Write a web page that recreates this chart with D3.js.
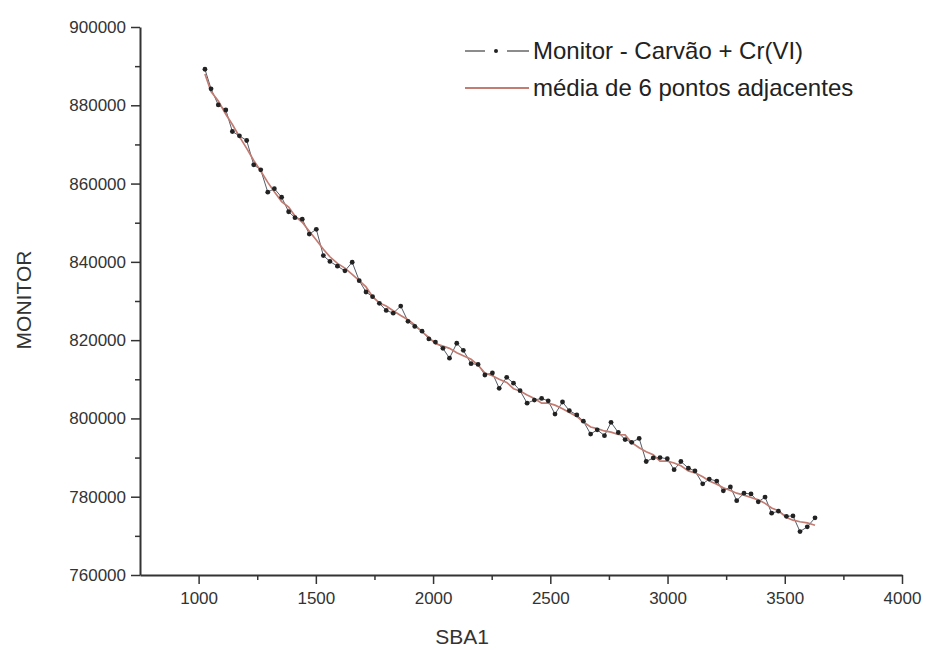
<!DOCTYPE html>
<html lang="pt">
<head>
<meta charset="utf-8">
<title>MONITOR vs SBA1</title>
<script src="https://d3js.org/d3.v7.min.js"></script>
<style>
  body { margin: 0; background: #fff; }
  svg { font-family: "Liberation Sans", Arial, sans-serif; }
</style>
</head>
<body>
<script>
var sba1 = [1027, 1053, 1084, 1116, 1144, 1174, 1205, 1235, 1265, 1295,
  1323, 1354, 1384, 1411, 1442, 1472, 1502, 1532, 1560, 1592,
  1624, 1655, 1685, 1714, 1742, 1771, 1800, 1830, 1862, 1893,
  1922, 1953, 1982, 2010, 2042, 2070, 2101, 2129, 2162, 2192,
  2221, 2253, 2282, 2314, 2343, 2371, 2401, 2432, 2463, 2491,
  2520, 2552, 2581, 2613, 2641, 2672, 2700, 2731, 2759, 2790,
  2819, 2847, 2879, 2909, 2939, 2968, 2999, 3028, 3057, 3089,
  3117, 3150, 3178, 3210, 3238, 3268, 3295, 3326, 3356, 3387,
  3416, 3444, 3473, 3507, 3535, 3565, 3596, 3629];

var monitor = [889200, 884200, 880100, 878800, 873300, 872200, 871000, 864800, 863500, 857800,
  858700, 856500, 852800, 851300, 850900, 847100, 848300, 841600, 840100, 838900,
  837700, 839900, 835200, 832300, 831100, 829400, 827600, 826900, 828700, 824800,
  823500, 822300, 820300, 819500, 817900, 815400, 819200, 817400, 814000, 813800,
  811100, 811600, 807700, 810500, 809000, 807100, 803900, 804700, 805100, 804500,
  801100, 804200, 802000, 800900, 799300, 796000, 797100, 795600, 799000, 796400,
  794600, 793900, 794900, 789000, 789900, 790000, 789700, 786900, 789000, 787300,
  786600, 783300, 784500, 784000, 781500, 782500, 779000, 780900, 780700, 778700,
  779900, 775800, 776300, 775000, 775100, 771100, 772300, 774600];

// the red smoothed line, read at the same x positions
var media = [888000, 883500, 881100, 877700, 875100, 872000, 869000, 865900, 863200, 860300,
  857900, 855400, 854000, 851700, 850100, 847800, 845600, 843200, 841300, 839600,
  838400, 836800, 835200, 833600, 831100, 829500, 828700, 827500, 826300, 825200,
  823900, 822100, 820700, 819100, 818500, 817900, 816800, 816000, 815100, 813600,
  811600, 810900, 810000, 809200, 807600, 807000, 806000, 805100, 803900, 803900,
  803400, 802500, 801500, 800500, 799100, 797800, 797400, 796800, 796500, 795900,
  795800, 793800, 792500, 791500, 790700, 789100, 789100, 788600, 787900, 786600,
  786100, 785100, 784000, 783200, 782300, 781600, 780900, 780400, 779800, 779200,
  778300, 777100, 776400, 774700, 774000, 773600, 773300, 772700];

var xTicks = [1000, 1500, 2000, 2500, 3000, 3500, 4000];
var yTicks = [760000, 780000, 800000, 820000, 840000, 860000, 880000, 900000];
var legendNames = ["Monitor - Carvão + Cr(VI)", "média de 6 pontos adjacentes"];

var width = 926, height = 650;
var axisColor = "#333";

var svg = d3.select("body").append("svg")
    .attr("width", width)
    .attr("height", height);

var x = d3.scaleLinear().domain([750, 4000]).range([140, 902]);
var y = d3.scaleLinear().domain([760000, 900000]).range([575, 27]);

// minor ticks first, then major ones
var xMinor = d3.range(1250, 4000, 500);
var yMinor = d3.range(770000, 900000, 20000);

svg.append("g")
    .attr("transform", "translate(0," + y(760000) + ")")
    .call(d3.axisBottom(x).tickValues(xMinor).tickSize(5).tickFormat(""))
    .call(function(g) { g.select(".domain").remove(); });

svg.append("g")
    .attr("transform", "translate(" + x(750) + ",0)")
    .call(d3.axisLeft(y).tickValues(yMinor).tickSize(5).tickFormat(""))
    .call(function(g) { g.select(".domain").remove(); });

svg.append("g")
    .attr("transform", "translate(0," + y(760000) + ")")
    .call(d3.axisBottom(x).tickValues(xTicks).tickSize(9).tickSizeOuter(0).tickPadding(8).tickFormat(d3.format("d")));

svg.append("g")
    .attr("transform", "translate(" + x(750) + ",0)")
    .call(d3.axisLeft(y).tickValues(yTicks).tickSize(9).tickSizeOuter(0).tickPadding(5).tickFormat(d3.format("d")));

svg.selectAll(".tick line").attr("stroke", axisColor).attr("stroke-width", 1.5);
svg.selectAll(".domain").attr("stroke", axisColor).attr("stroke-width", 2);
svg.selectAll(".tick text")
    .attr("fill", axisColor)
    .style("font-size", "17px")
    .style("font-family", "'Liberation Sans', Arial, sans-serif");

// axis titles
svg.append("text")
    .attr("x", 462).attr("y", 644)
    .attr("text-anchor", "middle")
    .attr("fill", axisColor)
    .style("font-size", "21px")
    .text("SBA1");

svg.append("text")
    .attr("transform", "translate(31,300) rotate(-90)")
    .attr("text-anchor", "middle")
    .attr("fill", axisColor)
    .style("font-size", "21px")
    .text("MONITOR");

// data line + dots
var pts = sba1.map(function(d, i) { return [d, monitor[i]]; });
var avg = sba1.map(function(d, i) { return [d, media[i]]; });

var line = d3.line()
    .x(function(d) { return x(d[0]); })
    .y(function(d) { return y(d[1]); });

svg.append("path")
    .datum(pts)
    .attr("d", line)
    .attr("fill", "none")
    .attr("stroke", "#555c66")
    .attr("stroke-width", 1);

svg.append("path")
    .datum(avg)
    .attr("d", line)
    .attr("fill", "none")
    .attr("stroke", "#c27c72")
    .attr("stroke-width", 1.7);

svg.selectAll("circle.pt")
    .data(pts)
    .enter().append("circle")
    .attr("class", "pt")
    .attr("cx", function(d) { return x(d[0]); })
    .attr("cy", function(d) { return y(d[1]); })
    .attr("r", 2.4)
    .attr("fill", "#222");

// legend
var lg = svg.append("g").attr("transform", "translate(465,0)");
lg.append("line").attr("x1", 0).attr("x2", 20).attr("y1", 51).attr("y2", 51)
    .attr("stroke", "#666").attr("stroke-width", 1.5);
lg.append("circle").attr("cx", 31).attr("cy", 51).attr("r", 2).attr("fill", "#222");
lg.append("line").attr("x1", 42).attr("x2", 64).attr("y1", 51).attr("y2", 51)
    .attr("stroke", "#666").attr("stroke-width", 1.5);
lg.append("line").attr("x1", 0).attr("x2", 64).attr("y1", 88).attr("y2", 88)
    .attr("stroke", "#c27c72").attr("stroke-width", 2);

lg.selectAll("text.lg")
    .data(legendNames)
    .enter().append("text")
    .attr("class", "lg")
    .attr("x", 68)
    .attr("y", function(d, i) { return 59 + i * 37; })
    .attr("fill", "#222")
    .style("font-size", "24px")
    .text(function(d) { return d; });
</script>
</body>
</html>
